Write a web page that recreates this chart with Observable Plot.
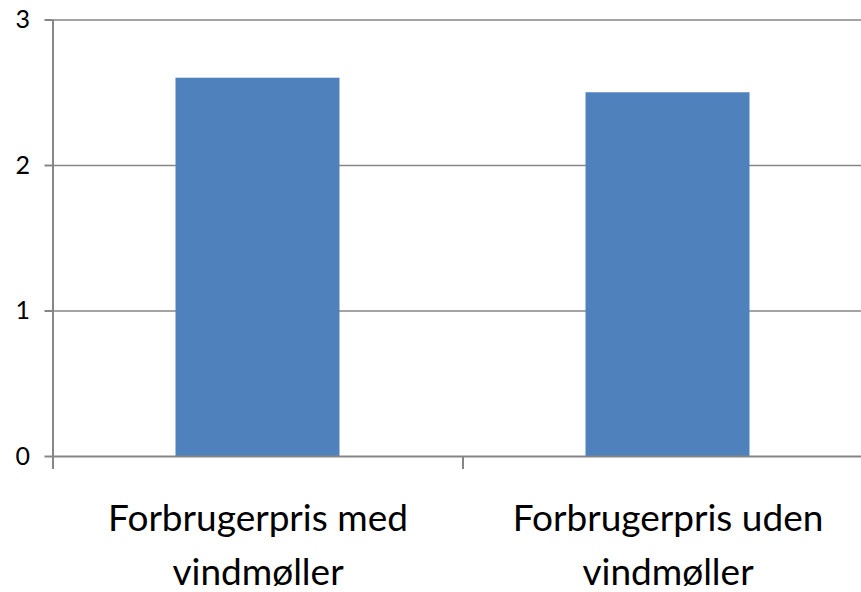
<!DOCTYPE html>
<html>
<head>
<meta charset="utf-8">
<script src="https://cdn.jsdelivr.net/npm/d3@7"></script>
<script src="https://cdn.jsdelivr.net/npm/@observablehq/plot@0.6"></script>
<style>
  html, body { margin: 0; padding: 0; background: #fff; overflow: hidden; }
  svg { display: block; }
</style>
</head>
<body>
<div id="chart"></div>
<script>
const categories = ["Forbrugerpris med\nvindmøller", "Forbrugerpris uden\nvindmøller"];
const values = [2.6, 2.5];
const yTicks = [0, 1, 2, 3];

const data = categories.map((c, i) => ({ i, category: c, value: values[i] }));
const boundaries = d3.range(0, categories.length + 1);
const gray = "#868686";

const chart = Plot.plot({
  width: 861,
  height: 592,
  marginLeft: 52.5,
  marginRight: -11.5,
  marginTop: 19.5,
  marginBottom: 136,
  style: { fontFamily: "Lato, Calibri, sans-serif", background: "#fff", color: "#000", overflow: "visible" },
  x: { domain: [0, categories.length], axis: null },
  y: { domain: [0, 3], axis: null },
  marks: [
    Plot.ruleY(yTicks.filter(d => d > 0), { x1: 0, x2: categories.length, stroke: gray, strokeWidth: 1.5 }),
    Plot.rectY(data, { x1: d => d.i + 0.3, x2: d => d.i + 0.7, y: "value", fill: "#4F81BD" }),
    Plot.ruleY([0], { x1: 0, x2: categories.length, stroke: gray, strokeWidth: 2 }),
    Plot.ruleX([0], { y1: 0, y2: 3, stroke: gray, strokeWidth: 2 }),
    Plot.axisY({ ticks: yTicks, tickSize: 8, tickPadding: 15, tickFormat: d3.format("d"), fontSize: 25, stroke: gray, strokeWidth: 2, strokeOpacity: 1, label: null }),
    Plot.axisX({ ticks: boundaries, tickSize: 13, tickFormat: () => "", stroke: gray, strokeWidth: 2, strokeOpacity: 1, label: null }),
    Plot.text(data, { x: d => d.i + 0.5, y: 0, text: "category", lineAnchor: "top", dy: 36, fontSize: 37, lineHeight: 1.46, fill: "#000" })
  ]
});
document.getElementById("chart").appendChild(chart);
</script>
</body>
</html>
